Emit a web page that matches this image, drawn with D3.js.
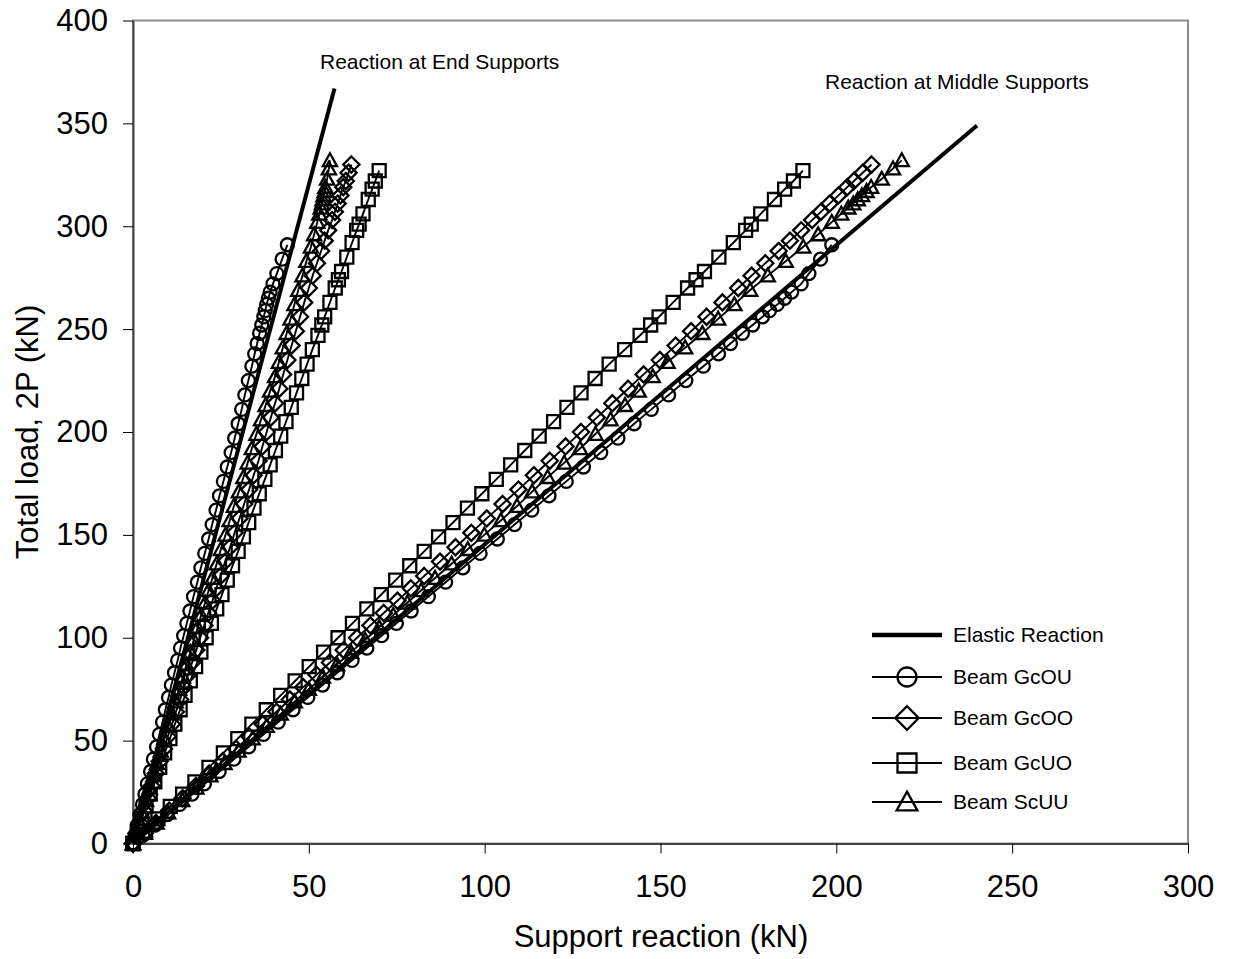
<!DOCTYPE html>
<html>
<head>
<meta charset="utf-8">
<script src="https://cdn.jsdelivr.net/npm/d3@7"></script>
<style>
  body { margin: 0; background: #fff; }
  svg { font-family: "Liberation Sans", Arial, sans-serif; }
</style>
</head>
<body>
<div id="container"></div>
<script>
// total load 2P (kN) and support reactions (kN) per beam
const loadGcOU = [0, 4, 9, 14, 19, 24, 29, 35, 41, 47, 53, 59, 65, 71, 77, 83, 89, 95, 101, 107, 113, 120, 127, 134, 141, 148, 155, 162, 169, 176, 183, 190, 197, 204, 211, 218, 225, 232, 238, 243, 248, 252, 256, 259, 262, 265, 268, 272, 277, 284, 291]
const endGcOU = [0, 0.6, 1.3, 2.0, 2.7, 3.4, 4.1, 5.0, 5.8, 6.7, 7.5, 8.4, 9.2, 10.1, 10.9, 11.8, 12.7, 13.5, 14.4, 15.3, 16.2, 17.2, 18.3, 19.3, 20.4, 21.5, 22.5, 23.6, 24.6, 25.7, 26.8, 27.9, 28.9, 29.9, 30.9, 31.8, 32.8, 33.8, 34.6, 35.3, 36.0, 36.6, 37.2, 37.6, 38.0, 38.5, 39.0, 39.8, 40.9, 42.4, 43.9]
const midGcOU = [0, 2.8, 6.3, 9.8, 13.3, 16.8, 20.3, 24.5, 28.7, 32.9, 37.1, 41.3, 45.5, 49.7, 53.9, 58.1, 62.3, 66.5, 70.7, 74.9, 79.1, 84.0, 88.9, 93.8, 98.7, 103.6, 108.5, 113.4, 118.3, 123.2, 128.1, 133.0, 137.9, 142.5, 147.4, 152.3, 157.2, 162.2, 166.5, 169.9, 173.3, 176.2, 179.0, 181.0, 183.2, 185.3, 187.3, 190.0, 192.2, 195.5, 198.7]

const loadGcOO = [0, 5, 10, 16, 22, 28, 34, 40, 46, 52, 58, 64, 70, 76, 82, 88, 94, 100, 106, 112, 118, 124, 130, 137, 144, 151, 158, 165, 172, 179, 186, 193, 200, 207, 214, 221, 228, 235, 242, 249, 256, 263, 270, 276, 282, 288, 293, 298, 303, 307, 311, 315, 319, 322, 326, 330]
const endGcOO = [0, 1.0, 1.9, 3.0, 4.2, 5.3, 6.5, 7.6, 8.8, 9.9, 11.1, 12.2, 13.4, 14.5, 15.7, 16.8, 18.0, 19.1, 20.3, 21.4, 22.6, 23.7, 24.9, 26.2, 27.6, 28.9, 30.3, 31.6, 33.0, 34.3, 35.7, 36.8, 38.0, 39.2, 40.4, 41.6, 42.7, 43.9, 45.1, 46.3, 47.5, 48.7, 50.0, 51.1, 52.3, 53.5, 54.5, 55.5, 56.6, 57.4, 58.2, 59.0, 59.8, 60.5, 61.3, 62.1]
const midGcOO = [0, 3.3, 6.5, 10.3, 14.1, 17.9, 21.7, 25.5, 29.3, 33.1, 36.9, 40.8, 44.6, 48.4, 52.2, 56.0, 59.9, 63.7, 67.5, 71.3, 75.2, 79.0, 82.8, 87.3, 91.7, 96.2, 100.6, 105.1, 109.6, 114.0, 118.5, 123.0, 127.4, 131.9, 136.3, 140.8, 145.2, 149.8, 154.3, 158.7, 163.1, 167.6, 172.1, 175.9, 179.8, 183.6, 186.8, 190.0, 193.1, 195.6, 198.1, 200.6, 203.1, 205.0, 207.5, 210.0]

const loadGcUO = [0, 6, 12, 18, 24, 30, 37, 44, 51, 58, 65, 72, 79, 86, 93, 100, 107, 114, 121, 128, 135, 142, 149, 156, 163, 170, 177, 184, 191, 198, 205, 212, 219, 226, 233, 240, 247, 252, 256, 263, 270, 274, 278, 285, 292, 298, 301, 306, 313, 318, 322, 327]
const endGcUO = [0, 1.2, 2.5, 3.7, 4.9, 6.2, 7.6, 9.0, 10.5, 11.9, 13.4, 14.8, 16.3, 17.8, 19.3, 20.8, 22.3, 23.8, 25.3, 26.8, 28.3, 29.9, 31.4, 32.9, 34.4, 35.9, 37.5, 39.0, 40.5, 42.0, 43.5, 45.0, 46.5, 48.0, 49.5, 51.0, 52.6, 53.7, 54.5, 56.0, 57.5, 58.4, 59.3, 60.8, 62.3, 63.6, 64.3, 65.4, 66.9, 68.0, 68.9, 70.0]
const midGcUO = [0, 3.6, 7.1, 10.6, 14.1, 17.6, 21.6, 25.7, 29.8, 33.8, 37.9, 42.0, 46.1, 50.1, 54.2, 58.3, 62.4, 66.5, 70.6, 74.7, 78.7, 82.8, 86.9, 91.0, 95.1, 99.2, 103.3, 107.4, 111.4, 115.5, 119.6, 123.4, 127.4, 131.4, 135.4, 139.8, 144.2, 147.2, 149.6, 153.6, 157.7, 160.1, 162.5, 166.6, 170.7, 174.2, 175.8, 178.5, 182.4, 185.3, 187.8, 190.5]

const loadScUU = [0, 5, 10, 15, 21, 27, 33, 39, 45, 51, 57, 63, 69, 75, 81, 87, 93, 99, 105, 111, 117, 123, 129, 136, 143, 150, 157, 164, 171, 178, 185, 192, 199, 206, 213, 220, 227, 234, 241, 248, 255, 262, 269, 276, 283, 290, 296, 302, 306, 309, 311, 313, 315, 317, 319, 323, 328, 332]
const endScUU = [0, 0.9, 1.8, 2.6, 3.7, 4.7, 5.8, 6.8, 7.9, 8.9, 10.0, 11.0, 12.1, 13.1, 14.2, 15.2, 16.3, 17.3, 18.4, 19.4, 20.5, 21.5, 22.6, 23.8, 25.0, 26.3, 27.5, 28.7, 30.1, 31.4, 32.6, 33.8, 35.1, 36.4, 37.7, 39.0, 40.4, 41.5, 42.6, 43.7, 44.8, 45.9, 47.0, 48.2, 49.3, 50.6, 51.5, 52.4, 53.0, 53.4, 53.7, 53.9, 54.2, 54.5, 54.7, 55.2, 55.7, 56.0]
const midScUU = [0, 3.4, 6.7, 10.0, 14.0, 18.0, 22.0, 26.0, 30.0, 34.0, 38.0, 42.0, 46.0, 50.0, 54.0, 58.0, 62.0, 66.0, 70.0, 74.0, 78.0, 81.9, 85.9, 90.6, 95.2, 99.9, 104.6, 109.2, 113.5, 117.9, 122.6, 127.1, 131.5, 135.8, 139.9, 143.8, 147.8, 152.0, 157.0, 161.9, 166.4, 171.0, 175.5, 180.5, 185.6, 190.6, 194.8, 198.7, 201.4, 203.4, 204.8, 206.1, 207.3, 208.6, 209.9, 212.9, 216.1, 218.6]

// elastic reactions
const elasticEndX = [0, 57.3]
const elasticEndY = [0, 367]
const elasticMidX = [0, 240]
const elasticMidY = [0, 349]

const xTicks = [0, 50, 100, 150, 200, 250, 300]
const yTicks = [0, 50, 100, 150, 200, 250, 300, 350, 400]
const legendNames = ['Elastic Reaction', 'Beam GcOU', 'Beam GcOO', 'Beam GcUO', 'Beam ScUU']

const beams = [
  { marker: 'circle', load: loadGcOU, end: endGcOU, mid: midGcOU },
  { marker: 'diamond', load: loadGcOO, end: endGcOO, mid: midGcOO },
  { marker: 'square', load: loadGcUO, end: endGcUO, mid: midGcUO },
  { marker: 'triangle', load: loadScUU, end: endScUU, mid: midScUU }
]

const svg = d3.select('#container').append('svg')
  .attr('width', 1235)
  .attr('height', 959)

const x = d3.scaleLinear().domain([0, 300]).range([133, 1188])
const y = d3.scaleLinear().domain([0, 400]).range([843.5, 20.5])

// frame
svg.append('rect')
  .attr('x', 133).attr('y', 20.5)
  .attr('width', 1055).attr('height', 823)
  .attr('fill', 'none')
  .attr('stroke', '#8c8c8c')
  .attr('stroke-width', 2)

const xAxis = svg.append('g')
  .attr('transform', 'translate(0,843.5)')
  .call(d3.axisBottom(x).tickValues(xTicks).tickSize(10).tickSizeOuter(0).tickPadding(14))
const yAxis = svg.append('g')
  .attr('transform', 'translate(133,0)')
  .call(d3.axisLeft(y).tickValues(yTicks).tickSize(10).tickSizeOuter(0).tickPadding(15))

;[xAxis, yAxis].forEach(g => {
  g.select('.domain').attr('stroke', '#444').attr('stroke-width', 2)
  g.selectAll('.tick line').attr('stroke', '#000').attr('stroke-width', 1)
  g.selectAll('.tick text')
    .attr('font-size', 31)
    .attr('font-family', '"Liberation Sans", Arial, sans-serif')
    .attr('fill', '#000')
})
xAxis.selectAll('.tick text').attr('dy', '0.95em')

// axis titles
svg.append('text')
  .attr('x', 661).attr('y', 947)
  .attr('text-anchor', 'middle')
  .attr('font-size', 31)
  .text('Support reaction (kN)')
svg.append('text')
  .attr('transform', 'translate(38,432) rotate(-90)')
  .attr('text-anchor', 'middle')
  .attr('font-size', 31)
  .text('Total load, 2P (kN)')

// annotations
svg.append('text')
  .attr('x', 320).attr('y', 69)
  .attr('font-size', 21)
  .text('Reaction at End Supports')
svg.append('text')
  .attr('x', 825).attr('y', 89)
  .attr('font-size', 21)
  .text('Reaction at Middle Supports')

function markerPath (type, s) {
  if (type === 'circle') {
    const r = s / 2
    return `M${-r},0A${r},${r} 0 1,0 ${r},0A${r},${r} 0 1,0 ${-r},0Z`
  }
  if (type === 'square') {
    const h = s / 2
    return `M${-h},${-h}H${h}V${h}H${-h}Z`
  }
  if (type === 'diamond') {
    const h = s * 0.62
    return `M0,${-h}L${h},0L0,${h}L${-h},0Z`
  }
  const h = s * 0.52
  return `M0,${-h * 1.05}L${h * 1.05},${h * 0.85}L${-h * 1.05},${h * 0.85}Z`
}

const line = d3.line().x(d => x(d[0])).y(d => y(d[1]))

beams.forEach(b => {
  const endPts = b.load.map((l, i) => [b.end[i], l])
  const midPts = b.load.map((l, i) => [b.mid[i], l])
  ;[endPts, midPts].forEach(pts => {
    svg.append('path')
      .attr('d', line(pts))
      .attr('fill', 'none')
      .attr('stroke', '#000')
      .attr('stroke-width', 1.9)
    svg.append('g').selectAll('path')
      .data(pts)
      .enter()
      .append('path')
      .attr('transform', d => `translate(${x(d[0])},${y(d[1])})`)
      .attr('d', markerPath(b.marker, 13))
      .attr('fill', 'none')
      .attr('stroke', '#000')
      .attr('stroke-width', 2.3)
  })
})

// elastic lines
;[[elasticEndX, elasticEndY], [elasticMidX, elasticMidY]].forEach(([ex, ey]) => {
  svg.append('path')
    .attr('d', line(ex.map((v, i) => [v, ey[i]])))
    .attr('fill', 'none')
    .attr('stroke', '#000')
    .attr('stroke-width', 4)
})

// legend
const legendY = [635, 677, 718, 763, 802]
const legendMarkers = [null, 'circle', 'diamond', 'square', 'triangle']
legendNames.forEach((name, i) => {
  const g = svg.append('g').attr('transform', `translate(0,${legendY[i]})`)
  g.append('line')
    .attr('x1', 872).attr('x2', 942)
    .attr('stroke', '#000')
    .attr('stroke-width', i === 0 ? 4.5 : 1.9)
  if (legendMarkers[i]) {
    g.append('path')
      .attr('transform', 'translate(907,0)')
      .attr('d', markerPath(legendMarkers[i], 19))
      .attr('fill', 'none')
      .attr('stroke', '#000')
      .attr('stroke-width', 2.3)
  }
  g.append('text')
    .attr('x', 953).attr('y', 7)
    .attr('font-size', 21)
    .text(name)
})
</script>
</body>
</html>
